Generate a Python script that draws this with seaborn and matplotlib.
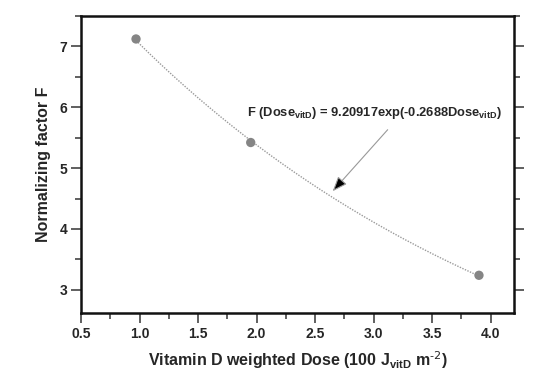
import numpy as np
import pandas as pd
import matplotlib
matplotlib.use("Agg")
import matplotlib.pyplot as plt
import seaborn as sns
from matplotlib.ticker import MultipleLocator

# data
dose = [0.97, 1.95, 3.90]
factor = [7.12, 5.42, 3.24]

# fit shown in the figure
fit_a = 9.20917
fit_b = -0.2688

sns.set_style("ticks")
plt.rcParams["font.family"] = ["Liberation Sans", "DejaVu Sans"]
plt.rcParams["mathtext.default"] = "regular"
plt.rcParams["axes.unicode_minus"] = False

df = pd.DataFrame({"dose": dose, "factor": factor})
x_fit = np.linspace(min(dose), max(dose), 200)
fit_df = pd.DataFrame({"dose": x_fit, "factor": fit_a * np.exp(fit_b * x_fit)})

fig = plt.figure(figsize=(5.51, 3.86), dpi=100)
ax = fig.add_axes([0.147, 0.189, 0.786, 0.770])

sns.lineplot(data=fit_df, x="dose", y="factor", ax=ax, color="#9a9a9a",
             linewidth=1.0, linestyle=(0, (1, 1)))
sns.scatterplot(data=df, x="dose", y="factor", ax=ax, color="#858585",
                s=45, edgecolor="none", zorder=3)

ax.set_xlim(0.5, 4.2)
ax.set_ylim(2.62, 7.5)
ax.xaxis.set_major_locator(MultipleLocator(0.5))
ax.xaxis.set_minor_locator(MultipleLocator(0.25))
ax.yaxis.set_major_locator(MultipleLocator(1))
ax.yaxis.set_minor_locator(MultipleLocator(0.5))
ax.xaxis.set_major_formatter(plt.FormatStrFormatter("%.1f"))

for s in ax.spines.values():
    s.set_visible(True)
    s.set_linewidth(1.8)
    s.set_color("#111111")

ax.tick_params(which="major", direction="out", length=7, width=1.2,
               color="#444444", labelsize=10, right=True, pad=3)
ax.tick_params(which="minor", direction="out", length=4, width=1.2,
               color="#444444", right=True)
ax.tick_params(axis="y", labelright=False)
for lab in ax.get_xticklabels() + ax.get_yticklabels():
    lab.set_fontweight("bold")

ax.set_xlabel(r"Vitamin D weighted Dose (100 J$_{vitD}$ m$^{\text{-2}}$)",
              fontsize=11.5, fontweight="bold", labelpad=6)
ax.set_ylabel("Normalizing factor F", fontsize=11.5, fontweight="bold",
              labelpad=6)

ax.text(3.01, 5.9, r"F (Dose$_{vitD}$) = 9.20917exp(-0.2688Dose$_{vitD}$)",
        ha="center", va="center", fontsize=9.3, fontweight="bold")
ax.annotate("", xy=(2.65, 4.62), xytext=(3.12, 5.63),
            arrowprops=dict(arrowstyle="-|>,head_length=0.9,head_width=0.35",
                            lw=0.8, shrinkA=0, shrinkB=0,
                            fc="black", ec="#999999"))

fig.savefig("out.png", dpi=100)
